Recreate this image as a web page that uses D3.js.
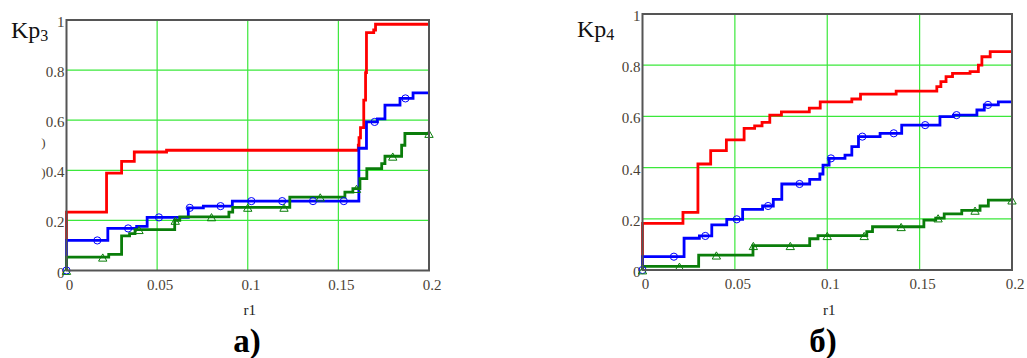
<!DOCTYPE html>
<html>
<head>
<meta charset="utf-8">
<script src="https://cdn.jsdelivr.net/npm/d3@7"></script>
<style>
  html, body { margin: 0; background: #fff; }
  svg { display: block; }
</style>
</head>
<body>
<div id="chart"></div>
<script>
// axis ticks
const xTicks = [0, 0.05, 0.1, 0.15, 0.2];
const xTickLabels = ['0', '0.05', '0.1', '0.15', '0.2'];
const yTicks = [0, 0.2, 0.4, 0.6, 0.8, 1];
const yTickLabels = ['0', '0.2', '0.4', '0.6', '0.8', '1'];

// marker positions along r1
const circleMarksR = [0, 0.017, 0.034, 0.051, 0.068, 0.085, 0.102, 0.119, 0.136, 0.153, 0.17, 0.187];
const triangleMarksR = [0, 0.02, 0.04, 0.06, 0.08, 0.1, 0.12, 0.14, 0.16, 0.18, 0.2];

// Kp3 (a) step series: [r1, value from r1 on]
const kp3Red = [[0, 0.12], [0, 0.233], [0.0221, 0.389], [0.0304, 0.436], [0.0374, 0.473], [0.0552, 0.48],
  [0.161, 0.5], [0.1614, 0.53], [0.1622, 0.57], [0.164, 0.68], [0.165, 0.79], [0.1655, 0.95],
  [0.1695, 0.96], [0.1705, 0.983], [0.2, 0.983]];
const kp3Blue = [[0, 0], [0, 0.12], [0.0228, 0.168], [0.0387, 0.176], [0.0445, 0.212], [0.0672, 0.25],
  [0.0755, 0.257], [0.0915, 0.277], [0.1613, 0.488], [0.1655, 0.593], [0.1715, 0.605], [0.1757, 0.66],
  [0.184, 0.687], [0.1912, 0.709], [0.2, 0.709]];
const kp3Green = [[0, 0], [0, 0.053], [0.0233, 0.064], [0.0304, 0.138], [0.0348, 0.147], [0.0378, 0.163],
  [0.0597, 0.2], [0.0625, 0.214], [0.0896, 0.233], [0.0917, 0.252], [0.1232, 0.293], [0.1536, 0.313],
  [0.158, 0.327], [0.1619, 0.367], [0.1657, 0.407], [0.1739, 0.427], [0.1757, 0.456], [0.1849, 0.5],
  [0.1867, 0.547], [0.2, 0.547]];

// Kp4 (б)
const kp4Red = [[0, 0], [0, 0.182], [0.0219, 0.225], [0.03, 0.414], [0.0369, 0.466], [0.0454, 0.508],
  [0.055, 0.553], [0.0607, 0.563], [0.0647, 0.577], [0.0689, 0.605], [0.0752, 0.618], [0.0903, 0.632],
  [0.0962, 0.657], [0.1133, 0.668], [0.118, 0.687], [0.1373, 0.699], [0.1593, 0.716], [0.1615, 0.736],
  [0.1643, 0.755], [0.1678, 0.768], [0.1773, 0.775], [0.1818, 0.8], [0.1837, 0.833], [0.1882, 0.853],
  [0.2, 0.853]];
const kp4Blue = [[0, 0], [0, 0.052], [0.0225, 0.124], [0.0308, 0.133], [0.0375, 0.176], [0.0456, 0.198],
  [0.0542, 0.237], [0.065, 0.25], [0.0708, 0.276], [0.0754, 0.336], [0.0905, 0.354], [0.096, 0.375],
  [0.0977, 0.41], [0.101, 0.436], [0.1096, 0.449], [0.1133, 0.482], [0.1169, 0.521], [0.1286, 0.534],
  [0.1403, 0.566], [0.161, 0.599], [0.1683, 0.605], [0.181, 0.625], [0.185, 0.645], [0.1926, 0.657],
  [0.2, 0.657]];
const kp4Green = [[0, 0], [0, 0.014], [0.0304, 0.058], [0.0598, 0.095], [0.0905, 0.122], [0.095, 0.134],
  [0.1214, 0.15], [0.1245, 0.169], [0.1523, 0.195], [0.1587, 0.203], [0.1633, 0.219], [0.1728, 0.233],
  [0.1827, 0.25], [0.1872, 0.273], [0.2, 0.273]];

const SERIF = "Liberation Serif, Times New Roman, Tinos, DejaVu Serif, serif";
const TICK_COLOR = '#4a3f35';
const RED = '#ff0000';
const BLUE = '#0000ff';
const GREEN = '#0a7d0a';
const GRID = '#3be83b';

const svg = d3.select('#chart').append('svg').attr('width', 1027).attr('height', 358)
  .style('font-family', SERIF);

const panels = [
  {
    left: 66.5, right: 429, top: 20, bottom: 270.5,
    sub: '3', labelX: 11, labelY: 38,
    caption: 'а)', captionX: 247,
    red: kp3Red, blue: kp3Blue, green: kp3Green,
    stray: true
  },
  {
    left: 642.5, right: 1012, top: 14, bottom: 270,
    sub: '4', labelX: 577, labelY: 37,
    caption: 'б)', captionX: 823,
    red: kp4Red, blue: kp4Blue, green: kp4Green,
    stray: false
  }
];

function stepValue(series, r) {
  if (r === 0) return series[0][1];
  const i = d3.bisector((d) => d[0]).right(series, r) - 1;
  return series[Math.max(0, i)][1];
}

panels.forEach((p) => {
  const x = d3.scaleLinear().domain([0, 0.2]).range([p.left, p.right]);
  const y = d3.scaleLinear().domain([0, 1]).range([p.bottom, p.top]);
  const g = svg.append('g');

  // grid
  g.append('g')
    .selectAll('line')
    .data(xTicks.slice(1, -1))
    .join('line')
    .attr('x1', (d) => x(d)).attr('x2', (d) => x(d))
    .attr('y1', p.top).attr('y2', p.bottom)
    .attr('stroke', GRID).attr('stroke-width', 1.2);
  g.append('g')
    .selectAll('line')
    .data(yTicks.slice(1, -1))
    .join('line')
    .attr('x1', p.left).attr('x2', p.right)
    .attr('y1', (d) => y(d)).attr('y2', (d) => y(d))
    .attr('stroke', GRID).attr('stroke-width', 1.2);

  // tick labels
  g.append('g')
    .selectAll('text')
    .data(xTicks)
    .join('text')
    .attr('x', (d) => x(d) + 3)
    .attr('y', p.bottom + 19)
    .attr('text-anchor', 'middle')
    .attr('font-size', 15)
    .attr('fill', TICK_COLOR)
    .text((d, i) => xTickLabels[i]);
  g.append('g')
    .selectAll('text')
    .data(yTicks)
    .join('text')
    .attr('x', p.left - 2)
    .attr('y', (d) => y(d) + 7)
    .attr('text-anchor', 'end')
    .attr('font-size', 15)
    .attr('fill', TICK_COLOR)
    .text((d, i) => yTickLabels[i]);

  if (p.stray) {
    // clipped leftovers of a hidden label in the original
    [0.52, 0.4].forEach((v) => {
      g.append('text')
        .attr('x', p.left - 21).attr('y', y(v) + 7)
        .attr('text-anchor', 'end')
        .attr('font-size', 13)
        .attr('fill', TICK_COLOR)
        .text(')');
    });
  }

  // series
  const line = d3.line().x((d) => x(d[0])).y((d) => y(d[1])).curve(d3.curveStepAfter);
  [[p.red, RED], [p.blue, BLUE], [p.green, GREEN]].forEach(([s, c]) => {
    g.append('path')
      .attr('d', line(s))
      .attr('fill', 'none')
      .attr('stroke', c)
      .attr('stroke-width', 2.8);
  });

  // markers
  g.append('g')
    .selectAll('circle')
    .data(circleMarksR)
    .join('circle')
    .attr('cx', (d) => x(d))
    .attr('cy', (d) => y(stepValue(p.blue, d)))
    .attr('r', 3.6)
    .attr('fill', 'none')
    .attr('stroke', BLUE)
    .attr('stroke-width', 1);
  const tri = d3.symbol(d3.symbolTriangle, 30);
  g.append('g')
    .selectAll('path')
    .data(triangleMarksR)
    .join('path')
    .attr('d', tri)
    .attr('transform', (d) => `translate(${x(d)},${y(stepValue(p.green, d)) + 1.5})`)
    .attr('fill', 'none')
    .attr('stroke', GREEN)
    .attr('stroke-width', 1);

  // frame
  g.append('rect')
    .attr('x', p.left).attr('y', p.top)
    .attr('width', p.right - p.left).attr('height', p.bottom - p.top)
    .attr('fill', 'none')
    .attr('stroke', '#555')
    .attr('stroke-width', 2);

  // axis titles
  const yl = g.append('text')
    .attr('x', p.labelX).attr('y', p.labelY)
    .attr('font-size', 24).attr('fill', '#111');
  yl.append('tspan').text('Kp');
  yl.append('tspan').attr('font-size', 16).attr('dy', 3).text(p.sub);

  g.append('text')
    .attr('x', x(0.1) + 2).attr('y', 315)
    .attr('text-anchor', 'middle')
    .attr('font-size', 15).attr('fill', '#222')
    .text('r1');

  g.append('text')
    .attr('x', p.captionX).attr('y', 352)
    .attr('text-anchor', 'middle')
    .attr('font-size', 33).attr('font-weight', 'bold')
    .attr('fill', '#000')
    .text(p.caption);
});
</script>
</body>
</html>
